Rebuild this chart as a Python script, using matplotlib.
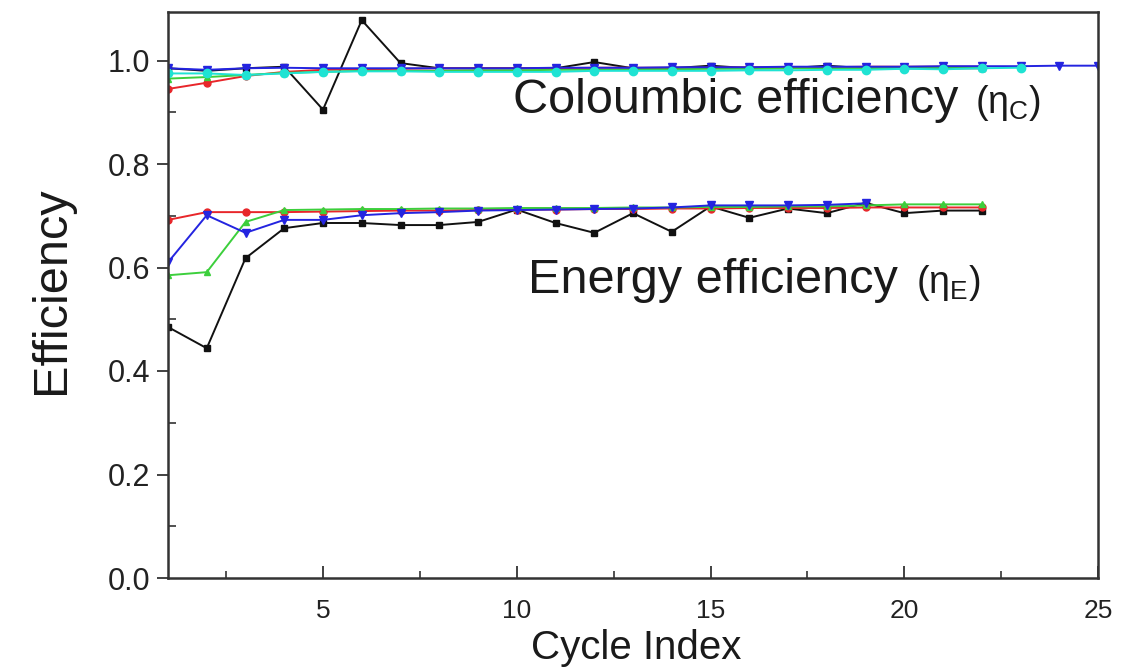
import matplotlib
matplotlib.use("Agg")
import matplotlib.pyplot as plt
from matplotlib.ticker import MultipleLocator

plt.rcParams['font.family'] = ['Liberation Sans', 'DejaVu Sans']
plt.rcParams['mathtext.fontset'] = 'custom'
plt.rcParams['mathtext.rm'] = 'Liberation Sans'
plt.rcParams['mathtext.it'] = 'Liberation Sans:italic'

# ---- data ----
ce_black_x = list(range(1, 23))
ce_black = [0.985, 0.98, 0.985, 0.988, 0.905, 1.078, 0.995, 0.985, 0.985, 0.985, 0.985,
            0.997, 0.985, 0.985, 0.99, 0.985, 0.985, 0.99, 0.985, 0.985, 0.985, 0.985]
ce_red_x = list(range(1, 23))
ce_red = [0.945, 0.957, 0.97, 0.978, 0.982, 0.983, 0.984, 0.985, 0.985, 0.985, 0.985,
          0.986, 0.986, 0.986, 0.986, 0.987, 0.987, 0.987, 0.988, 0.988, 0.988, 0.988]
ce_green_x = list(range(1, 23))
ce_green = [0.965, 0.968, 0.972, 0.976, 0.978, 0.98, 0.98, 0.98, 0.981, 0.981, 0.982,
            0.982, 0.983, 0.983, 0.984, 0.984, 0.985, 0.985, 0.985, 0.986, 0.986, 0.986]
ce_blue_x = list(range(1, 26))
ce_blue = [0.985, 0.982, 0.985, 0.986, 0.985, 0.985, 0.985, 0.985, 0.985, 0.985, 0.986,
           0.986, 0.986, 0.987, 0.987, 0.987, 0.988, 0.988, 0.988, 0.988, 0.989, 0.989,
           0.989, 0.99, 0.99]
ce_cyan_x = list(range(1, 24))
ce_cyan = [0.975, 0.975, 0.972, 0.975, 0.978, 0.979, 0.979, 0.978, 0.978, 0.978, 0.978,
           0.98, 0.98, 0.98, 0.98, 0.981, 0.981, 0.982, 0.982, 0.984, 0.983, 0.985, 0.986]

ee_black_x = list(range(1, 23))
ee_black = [0.485, 0.444, 0.618, 0.676, 0.686, 0.686, 0.682, 0.682, 0.688, 0.712, 0.686,
            0.667, 0.705, 0.669, 0.718, 0.696, 0.714, 0.705, 0.725, 0.705, 0.71, 0.71]
ee_red_x = list(range(1, 23))
ee_red = [0.692, 0.707, 0.707, 0.707, 0.708, 0.709, 0.71, 0.71, 0.711, 0.712, 0.712,
          0.713, 0.713, 0.714, 0.714, 0.715, 0.715, 0.715, 0.716, 0.716, 0.716, 0.716]
ee_green_x = list(range(1, 23))
ee_green = [0.585, 0.591, 0.688, 0.711, 0.712, 0.713, 0.713, 0.714, 0.714, 0.715, 0.715,
            0.715, 0.716, 0.716, 0.717, 0.717, 0.718, 0.718, 0.72, 0.722, 0.722, 0.722]
ee_blue_x = list(range(1, 20))
ee_blue = [0.61, 0.701, 0.667, 0.692, 0.692, 0.701, 0.705, 0.707, 0.71, 0.711, 0.712,
           0.713, 0.714, 0.716, 0.72, 0.72, 0.72, 0.721, 0.724]

xticks = [5, 10, 15, 20, 25]
yticks = [0.0, 0.2, 0.4, 0.6, 0.8, 1.0]

# ---- figure ----
W, H = 1121, 672
fig = plt.figure(figsize=(W / 100, H / 100), dpi=100)
ax = fig.add_axes([168 / W, 1 - 578 / H, (1098 - 168) / W, (578 - 12) / H])

BLACK = '#111111'
RED = '#e8262a'
GREEN = '#3ccf3c'
BLUE = '#2424e0'
CYAN = '#1fe3d3'

lw = 1.4
ms = 5
ax.plot(ce_black_x, ce_black, '-s', color=BLACK, lw=lw, ms=ms)
ax.plot(ee_black_x, ee_black, '-s', color=BLACK, lw=lw, ms=ms)
ax.plot(ce_red_x, ce_red, '-o', color=RED, lw=lw, ms=ms)
ax.plot(ee_red_x, ee_red, '-o', color=RED, lw=lw, ms=ms)
ax.plot(ce_green_x, ce_green, '-^', color=GREEN, lw=lw, ms=ms)
ax.plot(ee_green_x, ee_green, '-^', color=GREEN, lw=lw, ms=ms)
ax.plot(ce_blue_x, ce_blue, '-v', color=BLUE, lw=lw, ms=ms + 1)
ax.plot(ee_blue_x, ee_blue, '-v', color=BLUE, lw=lw, ms=ms + 1)
ax.plot(ce_cyan_x, ce_cyan, '-o', color=CYAN, lw=lw, ms=ms + 1)

ax.set_xlim(1, 25)
ax.set_ylim(0, (578 - 12) / 517.5)
ax.set_xticks(xticks)
ax.set_xticklabels([str(t) for t in xticks], fontsize=19)
ax.set_yticks(yticks)
ax.set_yticklabels([f'{t:.1f}' for t in yticks], fontsize=22)
ax.xaxis.set_minor_locator(MultipleLocator(2.5))
ax.yaxis.set_minor_locator(MultipleLocator(0.1))

for s in ax.spines.values():
    s.set_linewidth(1.8)
    s.set_color('#333333')

ax.tick_params(axis='x', which='major', direction='in', length=9, width=1.3,
               pad=15, colors='#333333', labelcolor='#222222')
ax.tick_params(axis='x', which='minor', direction='in', length=5, width=1.2, colors='#333333')
ax.tick_params(axis='y', which='major', direction='out', length=8, width=1.3,
               pad=5, colors='#333333', labelcolor='#222222')
ax.tick_params(axis='y', which='minor', direction='in', length=6, width=1.2, colors='#333333')

# labels
fig.text(52 / W, 1 - 290 / H, 'Efficiency', rotation=90, ha='center', va='center',
         fontsize=35, color='#1a1a1a')
fig.text(636 / W, 1 - 648 / H, 'Cycle Index', ha='center', va='center',
         fontsize=29, color='#1a1a1a')

# annotations
fig.text(513 / W, 1 - 113 / H, 'Coloumbic efficiency', ha='left', va='baseline',
         fontsize=35, color='#1a1a1a')
fig.text(975 / W, 1 - 113 / H, r'($\mathrm{\eta}_{\mathrm{C}}$)', ha='left', va='baseline',
         fontsize=27, color='#1a1a1a')
fig.text(528 / W, 1 - 293 / H, 'Energy efficiency', ha='left', va='baseline',
         fontsize=35, color='#1a1a1a')
fig.text(916 / W, 1 - 293 / H, r'($\mathrm{\eta}_{\mathrm{E}}$)', ha='left', va='baseline',
         fontsize=27, color='#1a1a1a')

fig.savefig('out.png', dpi=100)
